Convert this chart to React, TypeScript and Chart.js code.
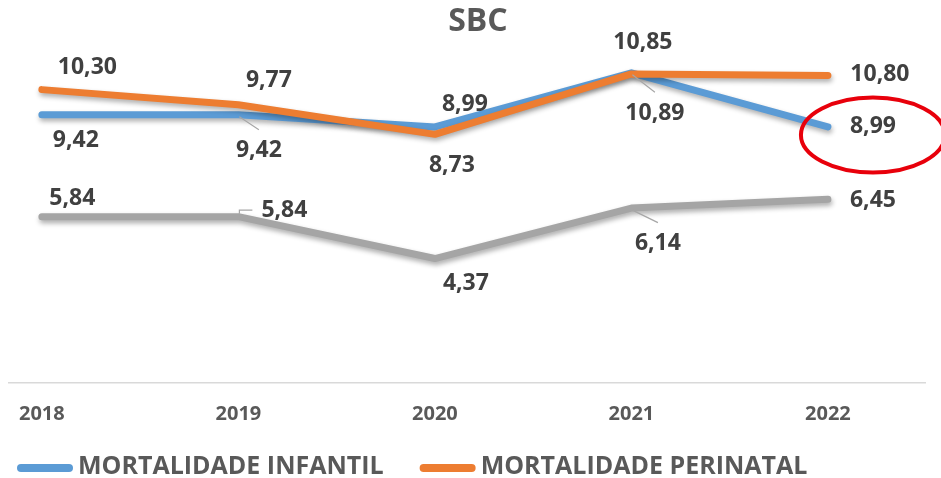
import React, { useEffect, useRef } from 'react';
import { Chart, registerables } from 'chart.js';

Chart.register(...registerables);

// ---------- data ----------
const TITLE = 'SBC';
const YEARS = ['2018', '2019', '2020', '2021', '2022'];
const SERIES_NAMES = ['MORTALIDADE INFANTIL', 'MORTALIDADE PERINATAL', 'MORTALIDADE NEONATAL'];
const INFANTIL = [9.42, 9.42, 8.99, 10.89, 8.99];
const PERINATAL = [10.30, 9.77, 8.73, 10.85, 10.80];
const NEONATAL = [5.84, 5.84, 4.37, 6.14, 6.45];
const Y_MIN = 0;
const Y_MAX = 12;

// ---------- styling / label placement ----------
const COLORS = ['#5B9BD5', '#ED7D31', '#A5A5A5'];
const FONT = '"Open Sans", "Noto Sans", sans-serif';
// [dx, dy] of each data label's centre relative to its point
const LABEL_OFFSETS = [
  [[34, 25.5], [20.5, 36], [30, -22], [23.5, 40.5], [45, 0]],
  [[45.5, -22.5], [30.5, -24.6], [17, 31], [11.5, -32], [52, -1]],
  [[30.5, -18.6], [46, -6.6], [31, 25], [26.5, 35.5], [45, 1]],
];
// leader lines: '' none, 'down' from point to top of label, 'hook' to left of label
const LEADERS = [
  ['', 'down', '', 'down', ''],
  ['', '', '', '', ''],
  ['', 'hook', '', 'down', ''],
];
const LEGEND_SERIES = [0, 1];

const fmt = (v: number) => v.toFixed(2).replace('.', ',');

const shadowPlugin = {
  id: 'lineShadow',
  beforeDatasetDraw(chart: any) {
    const ctx = chart.ctx;
    ctx.save();
    ctx.shadowColor = 'rgba(0,0,0,0.32)';
    ctx.shadowBlur = 5;
    ctx.shadowOffsetX = 1;
    ctx.shadowOffsetY = 3;
  },
  afterDatasetDraw(chart: any) {
    chart.ctx.restore();
  },
};

const titlePlugin = {
  id: 'offsetTitle',
  afterDraw(chart: any) {
    const ctx = chart.ctx;
    ctx.save();
    ctx.font = `bold 32px ${FONT}`;
    ctx.fillStyle = '#595959';
    ctx.textAlign = 'center';
    ctx.textBaseline = 'middle';
    ctx.fillText(TITLE, 478, 22);
    ctx.restore();
  },
};

const labelsPlugin = {
  id: 'pointLabels',
  afterDatasetsDraw(chart: any) {
    const ctx = chart.ctx;
    ctx.save();
    ctx.font = `bold 23px ${FONT}`;
    ctx.textAlign = 'center';
    ctx.textBaseline = 'middle';
    chart.data.datasets.forEach((ds: any, di: number) => {
      const meta = chart.getDatasetMeta(di);
      meta.data.forEach((pt: any, i: number) => {
        const [dx, dy] = LABEL_OFFSETS[di][i];
        const cx = pt.x + dx;
        const cy = pt.y + dy;
        const text = fmt(ds.data[i].y);
        const w = ctx.measureText(text).width;
        const leader = LEADERS[di][i];
        if (leader) {
          ctx.strokeStyle = '#A6A6A6';
          ctx.lineWidth = 1.2;
          ctx.beginPath();
          if (leader === 'down') {
            ctx.moveTo(pt.x + 1, pt.y + 2);
            ctx.lineTo(cx, cy - 8 - 13);
          } else {
            ctx.moveTo(pt.x + 1, pt.y - 3);
            ctx.lineTo(pt.x + 1, cy);
            ctx.lineTo(cx - w / 2 - 9, cy);
          }
          ctx.stroke();
        }
        ctx.fillStyle = '#404040';
        ctx.fillText(text, cx, cy);
      });
    });
    // highlight ellipse around the last INFANTIL value
    const meta0 = chart.getDatasetMeta(0);
    const last = meta0.data[meta0.data.length - 1];
    ctx.strokeStyle = '#E8000B';
    ctx.lineWidth = 4;
    ctx.beginPath();
    ctx.ellipse(last.x + 45, last.y + 8, 72, 37.5, 0, 0, Math.PI * 2);
    ctx.stroke();
    ctx.restore();
  },
};

const legendPlugin = {
  id: 'bottomLegend',
  afterDraw(chart: any) {
    const ctx = chart.ctx;
    ctx.save();
    ctx.font = `bold 25px ${FONT}`;
    ctx.textBaseline = 'middle';
    ctx.textAlign = 'left';
    let x = 21;
    const yLine = 468;
    const yText = 467;
    LEGEND_SERIES.forEach((si) => {
      const ds = chart.data.datasets[si];
      ctx.strokeStyle = ds.borderColor;
      ctx.lineWidth = 8;
      ctx.lineCap = 'round';
      ctx.beginPath();
      ctx.moveTo(x, yLine);
      ctx.lineTo(x + 48, yLine);
      ctx.stroke();
      x += 48 + 9;
      ctx.fillStyle = '#595959';
      ctx.fillText(ds.label, x, yText);
      x += ctx.measureText(ds.label).width + 40;
    });
    ctx.restore();
  },
};

export default function App() {
  const ref = useRef<HTMLCanvasElement | null>(null);

  useEffect(() => {
    if (!ref.current) return;
    const series = [INFANTIL, PERINATAL, NEONATAL];
    const chart = new Chart(ref.current, {
      type: 'line',
      data: {
        datasets: series.map((vals, si) => ({
          label: SERIES_NAMES[si],
          data: vals.map((v, i) => ({ x: i, y: v })),
          borderColor: COLORS[si],
          backgroundColor: COLORS[si],
          borderWidth: 7,
          borderCapStyle: 'round',
          borderJoinStyle: 'round',
          pointRadius: 0,
          tension: 0,
          fill: false,
          order: si === 1 ? 0 : si === 0 ? 1 : 2,
        })),
      },
      options: {
        responsive: false,
        maintainAspectRatio: false,
        animation: false,
        events: [],
        layout: { padding: { left: 0, right: 16, top: 41.2, bottom: 52 } },
        plugins: {
          legend: { display: false },
          tooltip: { enabled: false },
          title: { display: false },
        },
        scales: {
          x: {
            type: 'linear',
            min: -0.166,
            max: YEARS.length - 1 + 0.494,
            afterBuildTicks: (scale: any) => {
              scale.ticks = YEARS.map((_, i) => ({ value: i }));
            },
            afterFit: (scale: any) => {
              scale.height = 43;
            },
            ticks: {
              autoSkip: false,
              maxRotation: 0,
              padding: 19,
              color: '#595959',
              font: { family: FONT, size: 20, weight: 'bold', lineHeight: 1.2 },
              callback: (v: any) => YEARS[v] ?? '',
            },
            grid: { display: false, drawTicks: false },
            border: { display: true, color: '#D9D9D9', width: 1.5 },
          },
          y: {
            display: false,
            min: Y_MIN,
            max: Y_MAX,
          },
        },
      },
      plugins: [shadowPlugin, labelsPlugin, legendPlugin, titlePlugin],
    } as any);
    return () => chart.destroy();
  }, []);

  return (
    <div style={{ position: 'fixed', left: 0, top: 0, width: 941, height: 478, background: '#fff' }}>
      <canvas ref={ref} width={941} height={478} style={{ display: 'block' }} />
    </div>
  );
}
